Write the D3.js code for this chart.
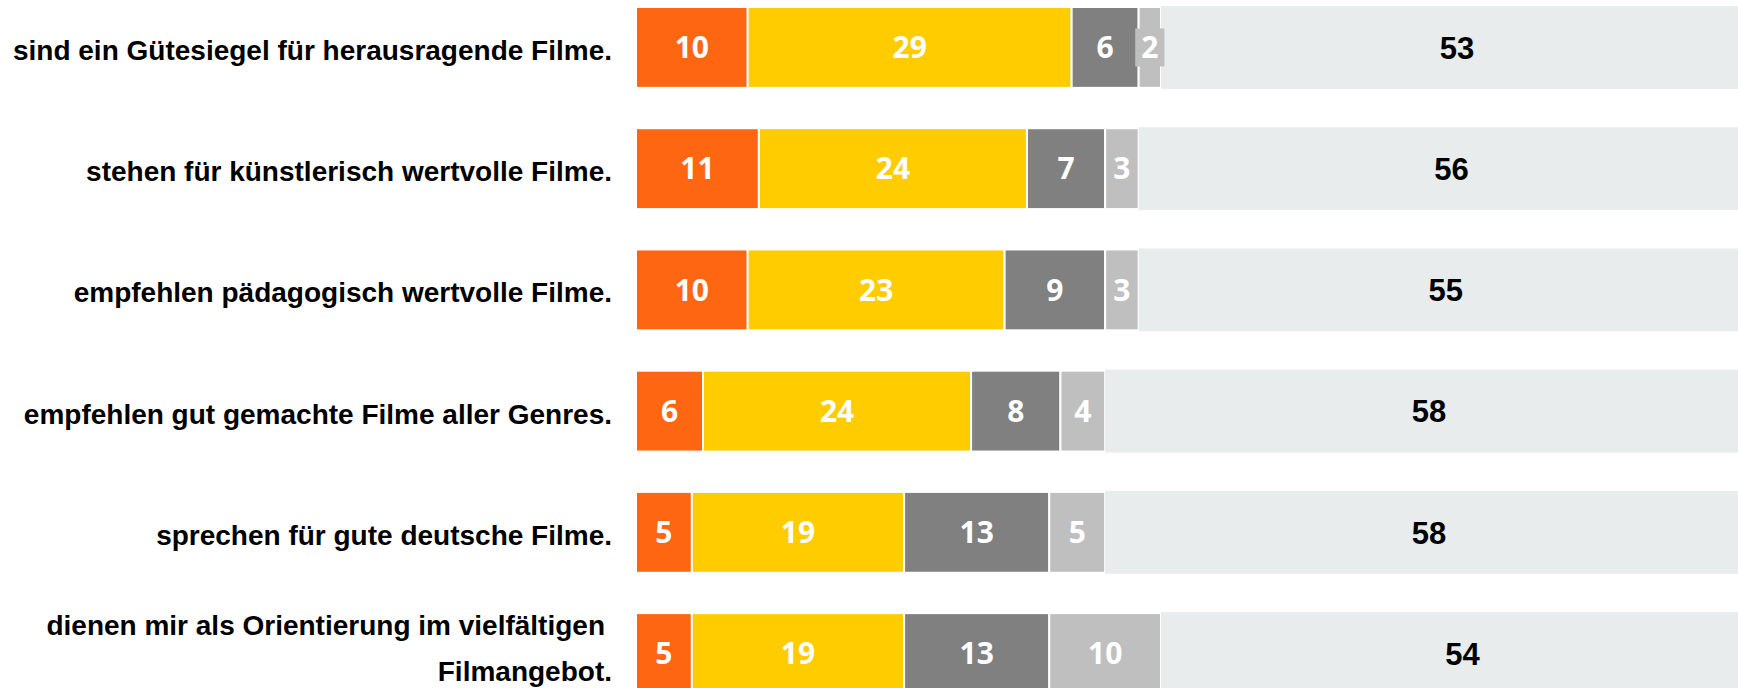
<!DOCTYPE html>
<html>
<head>
<meta charset="utf-8">
<style>
  body { margin: 0; background: #fff; overflow: hidden; }
</style>
</head>
<body>
<div id="chart"></div>
<script src="https://d3js.org/d3.v7.min.js"></script>
<script>
// statements (rows, top to bottom)
var categories = [
  "sind ein Gütesiegel für herausragende Filme.",
  "stehen für künstlerisch wertvolle Filme.",
  "empfehlen pädagogisch wertvolle Filme.",
  "empfehlen gut gemachte Filme aller Genres.",
  "sprechen für gute deutsche Filme.",
  "dienen mir als Orientierung im vielfältigen Filmangebot."
];
// label lines (the last statement wraps)
var labelLines = [
  ["sind ein Gütesiegel für herausragende Filme."],
  ["stehen für künstlerisch wertvolle Filme."],
  ["empfehlen pädagogisch wertvolle Filme."],
  ["empfehlen gut gemachte Filme aller Genres."],
  ["sprechen für gute deutsche Filme."],
  ["dienen mir als Orientierung im vielfältigen", "Filmangebot."]
];

// answer shares in percent
var s1 = [10, 11, 10, 6, 5, 5];
var s2 = [29, 24, 23, 24, 19, 19];
var s3 = [6, 7, 9, 8, 13, 13];
var s4 = [2, 3, 3, 4, 5, 10];
var s5 = [53, 56, 55, 58, 58, 54];

var keys = ["s1", "s2", "s3", "s4", "s5"];
var colors = ["#ff6611", "#ffcc00", "#808080", "#bfbfbf", "#e8eced"];

var W = 1738, H = 688;

var data = categories.map(function(c, i) {
  return { cat: c, s1: s1[i], s2: s2[i], s3: s3[i], s4: s4[i], s5: s5[i] };
});

var svg = d3.select("#chart").append("svg")
    .attr("width", W)
    .attr("height", H);

var x = d3.scaleLinear()
    .domain([0, 100])
    .range([636, 1753]);

var y = d3.scaleBand()
    .domain(categories)
    .range([7, 694])
    .paddingInner(0.333)
    .paddingOuter(0);

var z = d3.scaleOrdinal()
    .domain(keys)
    .range(colors);

var series = d3.stack().keys(keys)(data);

// bars
var layer = svg.append("g")
  .selectAll("g")
  .data(series)
  .enter().append("g")
    .attr("fill", function(d) { return z(d.key); });

layer.selectAll("rect")
  .data(function(d) { return d.map(function(p) { p.key = d.key; return p; }); })
  .enter().append("rect")
    .attr("x", function(d) { return x(d[0]); })
    .attr("width", function(d) { return x(d[1]) - x(d[0]); })
    .attr("y", function(d) { return d.key == "s5" ? y(d.data.cat) - 1 : y(d.data.cat); })
    .attr("height", function(d) { return d.key == "s5" ? y.bandwidth() + 2 : y.bandwidth(); })
    .attr("stroke", function(d) { return d.key == "s5" ? "none" : "#fff"; })
    .attr("stroke-width", 2);

// value labels
var labels = svg.append("g")
  .selectAll("g")
  .data(series)
  .enter().append("g")
  .selectAll("g")
  .data(function(d) { return d.map(function(p) { p.key = d.key; return p; }); })
  .enter().append("g")
    .attr("transform", function(d) {
      return "translate(" + ((x(d[0]) + x(d[1])) / 2) + "," + (y(d.data.cat) + y.bandwidth() / 2) + ")";
    });

labels.append("text")
    .attr("text-anchor", "middle")
    .attr("dy", "0.36em")
    .style("font-family", function(d) { return d.key == "s5" ? "'Liberation Sans', Arial, sans-serif" : "'Open Sans', sans-serif"; })
    .style("font-weight", "bold")
    .style("font-size", function(d) { return d.key == "s5" ? "31px" : "30px"; })
    .attr("fill", function(d) { return d.key == "s5" ? "#000" : "#fff"; })
    .text(function(d) { return d[1] - d[0]; });

// narrow segments get a small box behind their number
labels.each(function(d) {
  var g = d3.select(this);
  var tw = g.select("text").node().getBBox().width;
  var segW = x(d[1]) - x(d[0]);
  if (d.key != "s5" && tw + 6 > segW) {
    g.insert("rect", "text")
      .attr("x", -(tw + 12) / 2)
      .attr("y", -19)
      .attr("width", tw + 12)
      .attr("height", 38)
      .attr("fill", z(d.key));
  }
});

// category labels
var cats = svg.append("g")
  .selectAll("text")
  .data(categories)
  .enter().append("text")
    .attr("text-anchor", "end")
    .style("font-family", "'Liberation Sans', Arial, sans-serif")
    .style("font-weight", "bold")
    .style("font-size", "28px")
    .attr("fill", "#000");

cats.each(function(c, i) {
  var lines = labelLines[i];
  var cy = y(c) + y.bandwidth() / 2;
  var t = d3.select(this);
  if (lines.length == 1) {
    t.append("tspan").attr("x", 612).attr("y", cy + 12.5).text(lines[0]);
  } else {
    lines.forEach(function(l, j) {
      t.append("tspan")
        .attr("x", j == 0 ? 605 : 612)
        .attr("y", cy + 4 + (j - (lines.length - 1) / 2) * 46)
        .text(l);
    });
  }
});
</script>
</body>
</html>
